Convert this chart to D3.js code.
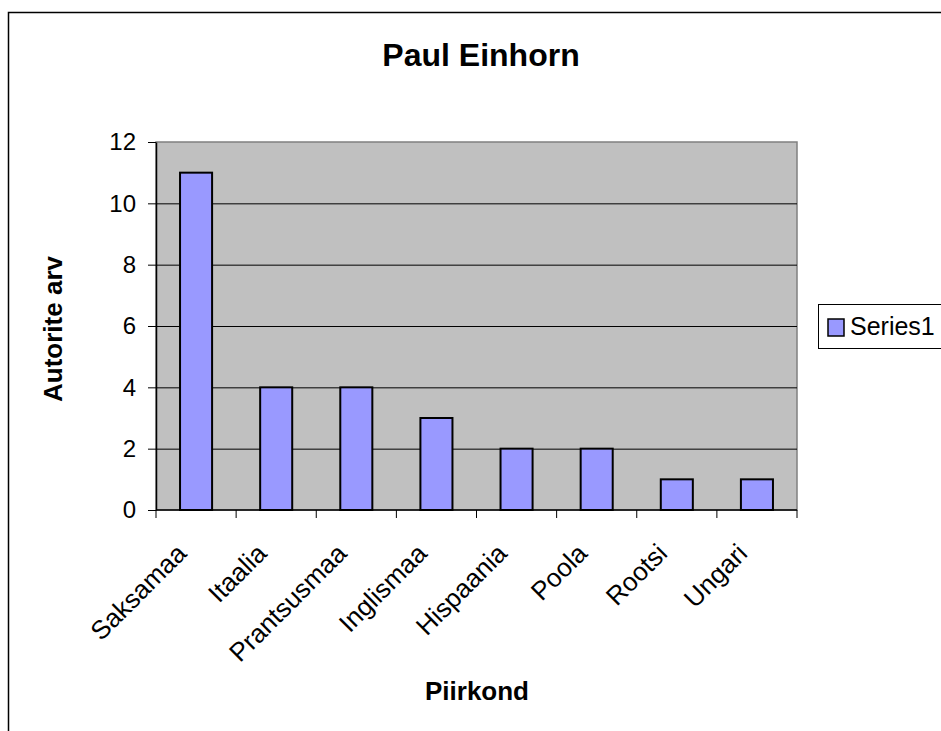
<!DOCTYPE html>
<html>
<head>
<meta charset="utf-8">
<script src="https://cdn.jsdelivr.net/npm/d3@7"></script>
<style>
  body { margin: 0; background: #fff; }
  text { font-family: "Liberation Sans", Arial, sans-serif; }
</style>
</head>
<body>
<div id="chart"></div>
<script>
// data
var categories = ["Saksamaa", "Itaalia", "Prantsusmaa", "Inglismaa", "Hispaania", "Poola", "Rootsi", "Ungari"];
var values = [11, 4, 4, 3, 2, 2, 1, 1];
var yTicks = [0, 2, 4, 6, 8, 10, 12];
var seriesName = "Series1";

var W = 941, H = 731;
var plot = { left: 156, top: 142, right: 797, bottom: 510 };

var svg = d3.select("#chart")
    .append("svg")
    .attr("width", W)
    .attr("height", H);

// outer chart frame (runs off the right and bottom edges)
svg.append("rect")
    .attr("x", 8.5)
    .attr("y", 12.5)
    .attr("width", 960)
    .attr("height", 760)
    .attr("fill", "#fff")
    .attr("stroke", "#000")
    .attr("stroke-width", 1.5);

var x = d3.scaleBand()
    .domain(categories)
    .range([plot.left, plot.right])
    .padding(0);

var y = d3.scaleLinear()
    .domain([0, 12])
    .range([plot.bottom, plot.top]);

// plot area
svg.append("rect")
    .attr("x", plot.left)
    .attr("y", plot.top)
    .attr("width", plot.right - plot.left)
    .attr("height", plot.bottom - plot.top)
    .attr("fill", "#c0c0c0")
    .attr("stroke", "#808080")
    .attr("stroke-width", 1.5);

// gridlines
svg.append("g")
    .selectAll("line")
    .data(yTicks.filter(function (d) { return d > 0 && d < 12; }))
    .enter()
    .append("line")
    .attr("x1", plot.left)
    .attr("x2", plot.right)
    .attr("y1", function (d) { return y(d) + 0.5; })
    .attr("y2", function (d) { return y(d) + 0.5; })
    .attr("stroke", "#000")
    .attr("stroke-width", 1);

// bars
var bw = x.bandwidth();
svg.append("g")
    .selectAll("rect")
    .data(values)
    .enter()
    .append("rect")
    .attr("x", function (d, i) { return x(categories[i]) + bw * 0.3; })
    .attr("y", function (d) { return y(d); })
    .attr("width", bw * 0.4)
    .attr("height", function (d) { return y(0) - y(d); })
    .attr("fill", "#9999ff")
    .attr("stroke", "#000")
    .attr("stroke-width", 2);

// y axis
var yAxis = svg.append("g")
    .attr("transform", "translate(" + plot.left + ",0)")
    .call(d3.axisLeft(y).tickValues(yTicks).tickSize(8).tickPadding(12).tickSizeOuter(0));
yAxis.select(".domain").attr("stroke", "#000").attr("stroke-width", 1.5);
yAxis.selectAll(".tick line").attr("stroke", "#000");
yAxis.selectAll(".tick text")
    .attr("fill", "#000")
    .style("font-family", "'Liberation Sans', Arial, sans-serif")
    .style("font-size", "24px");

// x axis line and ticks at category boundaries
svg.append("line")
    .attr("x1", plot.left)
    .attr("x2", plot.right)
    .attr("y1", plot.bottom)
    .attr("y2", plot.bottom)
    .attr("stroke", "#000")
    .attr("stroke-width", 1.5);

var boundaries = categories.map(function (c) { return x(c); }).concat([plot.right]);
svg.append("g")
    .selectAll("line")
    .data(boundaries)
    .enter()
    .append("line")
    .attr("x1", function (d) { return d; })
    .attr("x2", function (d) { return d; })
    .attr("y1", plot.bottom)
    .attr("y2", plot.bottom + 8)
    .attr("stroke", "#000")
    .attr("stroke-width", 1);

// rotated category labels
svg.append("g")
    .selectAll("text")
    .data(categories)
    .enter()
    .append("text")
    .attr("transform", function (d) {
        return "translate(" + (x(d) + bw / 2 - 8) + "," + 555 + ") rotate(-45)";
    })
    .attr("text-anchor", "end")
    .style("font-size", "26px")
    .text(function (d) { return d; });

// title
svg.append("text")
    .attr("x", 481)
    .attr("y", 66)
    .attr("text-anchor", "middle")
    .style("font-size", "32px")
    .style("font-weight", "bold")
    .text("Paul Einhorn");

// axis titles
svg.append("text")
    .attr("transform", "translate(62,329) rotate(-90)")
    .attr("text-anchor", "middle")
    .style("font-size", "26px")
    .style("font-weight", "bold")
    .text("Autorite arv");

svg.append("text")
    .attr("x", 477)
    .attr("y", 700)
    .attr("text-anchor", "middle")
    .style("font-size", "26px")
    .style("font-weight", "bold")
    .text("Piirkond");

// legend
var legend = svg.append("g");
legend.append("rect")
    .attr("x", 818.5)
    .attr("y", 304.5)
    .attr("width", 160)
    .attr("height", 44)
    .attr("fill", "#fff")
    .attr("stroke", "#000")
    .attr("stroke-width", 1);
legend.append("rect")
    .attr("x", 828)
    .attr("y", 319)
    .attr("width", 16)
    .attr("height", 17)
    .attr("fill", "#9999ff")
    .attr("stroke", "#000")
    .attr("stroke-width", 1.5);
legend.append("text")
    .attr("x", 850)
    .attr("y", 335)
    .style("font-size", "25px")
    .text(seriesName);
</script>
</body>
</html>
